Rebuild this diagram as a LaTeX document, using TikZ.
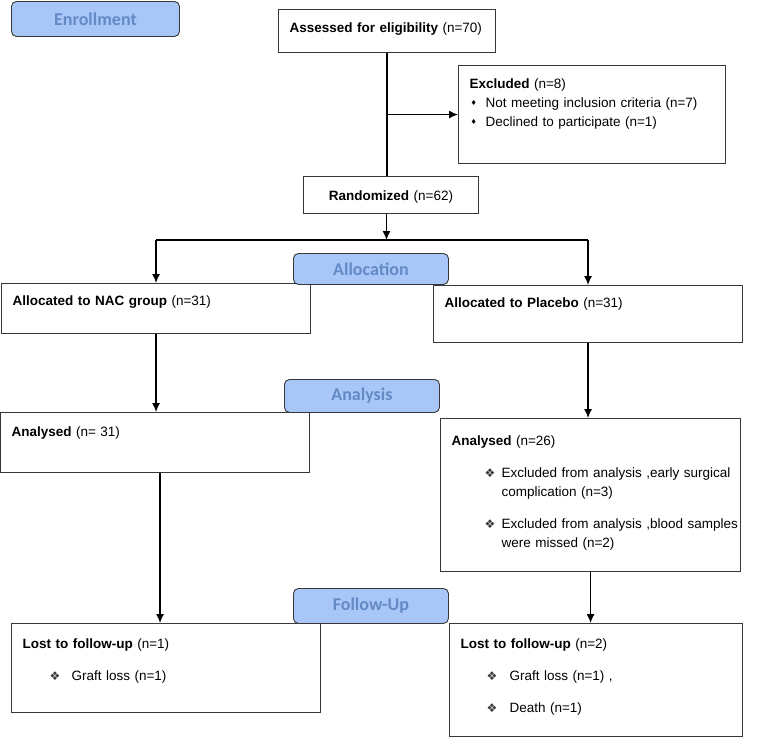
\documentclass[tikz,border=0pt]{standalone}
\usepackage{fontspec}
\setmainfont{Liberation Sans}
\newfontfamily\phasefont{Carlito}
\newfontfamily\symfont{DejaVu Sans}
\usetikzlibrary{positioning, arrows.meta, shapes}

\definecolor{phasefill}{RGB}{168,198,247}
\definecolor{phasetext}{RGB}{100,138,198}
\definecolor{boxline}{RGB}{56,56,56}

\tikzstyle{flowbox} = [draw=boxline, line width=1.1pt, rectangle, anchor=north west, inner xsep=11pt, inner ysep=0pt, align=left, font=\fontsize{13.5}{19}\selectfont]
\tikzstyle{phase} = [draw=boxline, line width=0.9pt, rectangle, rounded corners=5pt, fill=phasefill, text=phasetext, anchor=north west, inner sep=0pt, font=\phasefont\bfseries\fontsize{18}{18}\selectfont]
\tikzstyle{link} = [line width=1.2pt, black]
\tikzstyle{arrow} = [link, -{Latex[length=9pt,width=8pt]}]

\newcommand{\diaitem}{\hspace*{1pt}\makebox[15pt][l]{\raisebox{2pt}{\symfont\fontsize{7}{7}\selectfont ♦}}}
\newcommand{\crossitem}[2]{\hspace*{#1}\makebox[#2][l]{\raisebox{0.5pt}{\textcolor{boxline}{\symfont\fontsize{12}{12}\selectfont ❖}}}}

\begin{document}
\begin{tikzpicture}[x=1pt, y=-1pt]
  \useasboundingbox (0,0) rectangle (758,737);

  % enrollment
  \node[flowbox, text width=195pt, text height=23pt, text depth=20pt] (assessed) at (278,9)
    {\textbf{Assessed for eligibility} (n=70)};
  \node[flowbox, text width=245pt, text height=23pt, text depth=75pt] (excluded) at (458,65)
    {\textbf{Excluded} (n=8)\\
     \diaitem Not meeting inclusion criteria (n=7)\\
     \diaitem Declined to participate (n=1)};
  \node[flowbox, align=center, text width=153pt, text height=24pt, text depth=13pt] (random) at (303,176)
    {\textbf{Randomized} (n=62)};

  % allocation
  \node[flowbox, text width=287pt, text height=22pt, text depth=28pt] (nac) at (1,283)
    {\textbf{Allocated to NAC group} (n=31)};
  \node[flowbox, text width=287pt, text height=22pt, text depth=35pt] (placebo) at (433,285)
    {\textbf{Allocated to Placebo} (n=31)};

  % analysis
  \node[flowbox, text width=287pt, text height=24pt, text depth=36pt] (anac) at (0,412)
    {\textbf{Analysed} (n= 31)};
  \node[flowbox, text width=278pt, text height=27pt, text depth=126pt] (aplacebo) at (440,418)
    {\textbf{Analysed} (n=26)\\[13pt]
     \crossitem{33pt}{17pt}\mbox{Excluded from analysis ,early surgical}\\
     \hspace*{50pt}complication (n=3)\\[13pt]
     \crossitem{33pt}{17pt}\mbox{Excluded from analysis ,blood samples}\\
     \hspace*{50pt}were missed (n=2)};

  % follow-up
  \node[flowbox, text width=287pt, text height=25pt, text depth=64pt] (lnac) at (11,623)
    {\textbf{Lost to follow-up} (n=1)\\[13pt]
     \crossitem{27pt}{22pt}Graft loss (n=1)};
  \node[flowbox, text width=271pt, text height=25pt, text depth=88pt] (lplacebo) at (449,623)
    {\textbf{Lost to follow-up} (n=2)\\[13pt]
     \crossitem{26pt}{23pt}Graft loss (n=1) ,\\[13pt]
     \crossitem{26pt}{23pt}Death (n=1)};

  % phase labels
  \node[phase, minimum width=168pt, minimum height=35pt] (enroll) at (11,1) {Enrollment};
  \node[phase, minimum width=155pt, minimum height=31pt] (alloc) at (293,253) {Allocation};
  \node[phase, minimum width=155pt, minimum height=33pt] (analysis) at (284,379) {Analysis};
  \node[phase, minimum width=155pt, minimum height=35pt] (followup) at (293,588) {Follow-Up};

  % connectors
  \coordinate (split) at (386.5,240);
  \draw[link] (assessed.south) -- (assessed.south |- random.north);
  \draw[arrow] (assessed.south |- excluded.west) -- (excluded.west);
  \draw[arrow] (split |- random.south) -- (split);
  \draw[link] (nac.north |- split) -- (placebo.north |- split);
  \draw[arrow] (nac.north |- split) -- (nac.north);
  \draw[arrow] (placebo.north |- split) -- (placebo.north);
  \draw[arrow] (nac.south) -- (nac.south |- anac.north);
  \draw[arrow] (placebo.south) -- (placebo.south |- aplacebo.north);
  \draw[arrow] ([xshift=5pt]anac.south) -- ([xshift=5pt]anac.south |- lnac.north);
  \draw[arrow] (aplacebo.south) -- (aplacebo.south |- lplacebo.north);
\end{tikzpicture}
\end{document}
